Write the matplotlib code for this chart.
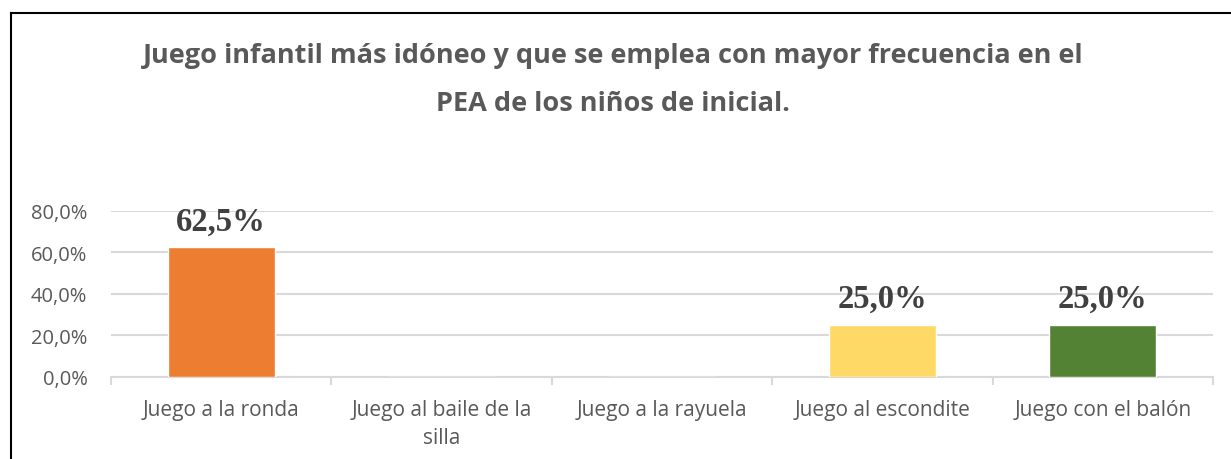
import matplotlib
matplotlib.use("Agg")
import matplotlib.pyplot as plt
from matplotlib.lines import Line2D

# datos
categorias = ["Juego a la ronda", "Juego al baile de la\nsilla", "Juego a la rayuela",
              "Juego al escondite", "Juego con el balón"]
porcentajes = [62.5, 0.0, 0.0, 25.0, 25.0]
colores = ["#ED7D31", "#A5A5A5", "#4472C4", "#FFD966", "#548235"]
yticks = [0, 20, 40, 60, 80]
titulo = "Juego infantil más idóneo y que se emplea con mayor frecuencia en el\nPEA de los niños de inicial."

sans = "Open Sans"
gris = "#595959"

fig = plt.figure(figsize=(12.31, 4.60), dpi=100)
ax = fig.add_axes([0.0902, 0.1783, 0.8952, 0.3609])

x = list(range(len(categorias)))
ax.bar(x, porcentajes, width=0.485, color=colores, edgecolor="white", linewidth=1, zorder=3)

for xi, v in zip(x, porcentajes):
  if v > 0:
    ax.annotate(("%.1f%%" % v).replace(".", ","), (xi, v), xytext=(0, 19), textcoords="offset points",
                ha="center", va="center", fontsize=23.5, fontweight="bold",
                family="Liberation Serif", color="#404040", zorder=4)

ax.set_xlim(-0.5, len(categorias) - 0.5)
ax.set_ylim(0, 80)
ax.set_yticks(yticks)
ax.set_yticklabels([("%.1f%%" % t).replace(".", ",") for t in yticks], family=sans, fontsize=14.5, color=gris)
ax.tick_params(axis="y", length=0, pad=17)
ax.yaxis.grid(True, color="#D9D9D9", linewidth=1.5, zorder=0)
ax.set_axisbelow(True)

ax.set_xticks(x)
ax.set_xticklabels(categorias, family=sans, fontsize=15, color=gris, linespacing=1.4)
ax.tick_params(axis="x", length=0, pad=16)
ax.set_xticks([i - 0.5 for i in range(len(categorias) + 1)], minor=True)
ax.tick_params(axis="x", which="minor", length=6, color="#D9D9D9", width=1.5)

for s in ["top", "right", "left"]:
  ax.spines[s].set_visible(False)
ax.spines["bottom"].set_color("#D9D9D9")
ax.spines["bottom"].set_linewidth(1.5)

fig.text(0.498, 1 - 80 / 460, titulo, ha="center", va="center", family=sans, fontsize=19.5,
         fontweight="bold", color=gris, linespacing=2.1)

# marco del grafico (solo borde superior e izquierdo visibles)
fig.add_artist(Line2D([11 / 1231, 11 / 1231], [0, 1 - 14 / 460], transform=fig.transFigure, color="black", linewidth=1.5))
fig.add_artist(Line2D([11 / 1231, 1], [1 - 14 / 460, 1 - 14 / 460], transform=fig.transFigure, color="black", linewidth=1.5))

plt.savefig("out.png", dpi=100)
